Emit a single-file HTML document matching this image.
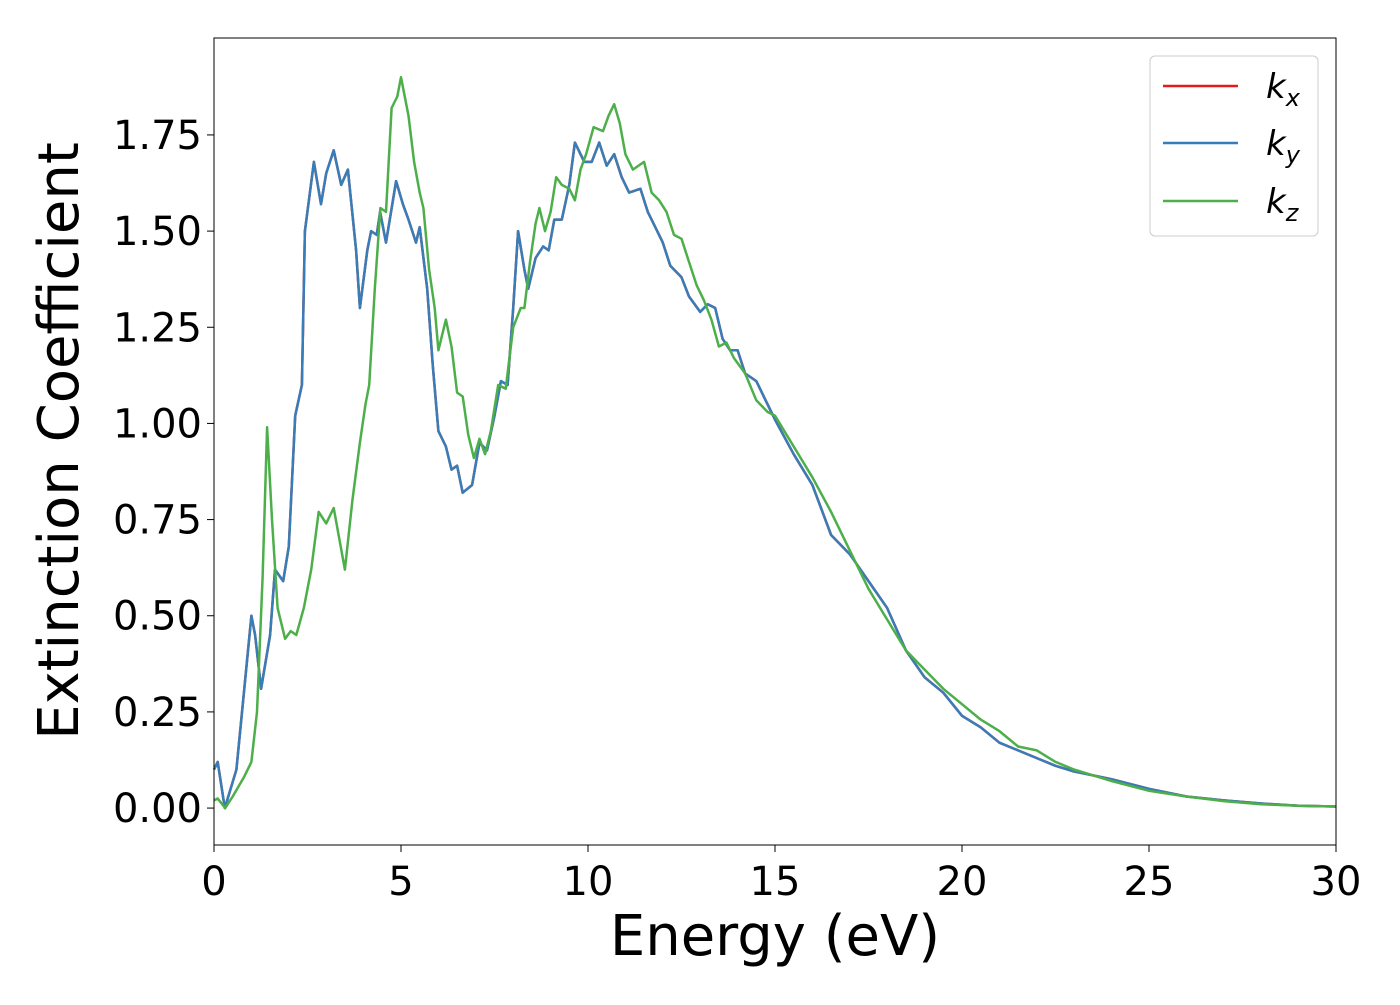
<!DOCTYPE html>
<html><head><meta charset="utf-8">
<style>
html,body{margin:0;padding:0;background:#fff;}
svg text{font-family:"DejaVu Sans","Liberation Sans",sans-serif;}
</style></head>
<body>
<svg width="1400" height="1000" viewBox="0 0 1400 1000">
<g id="plot"></g>
</svg>
<script>
const xTicks=[0,5,10,15,20,25,30];
const yTicks=[0.00,0.25,0.50,0.75,1.00,1.25,1.50,1.75];
const yTickLabels=["0.00","0.25","0.50","0.75","1.00","1.25","1.50","1.75"];
const energyXY=[0,0.1,0.29,0.6,0.8,1.0,1.1,1.26,1.5,1.63,1.85,2.0,2.17,2.35,2.43,2.67,2.86,3.0,3.2,3.4,3.58,3.8,3.9,4.1,4.2,4.35,4.44,4.6,4.87,5.05,5.2,5.4,5.5,5.7,5.85,6.0,6.2,6.35,6.5,6.65,6.9,7.1,7.3,7.5,7.67,7.85,8.0,8.13,8.3,8.4,8.6,8.8,8.95,9.1,9.3,9.5,9.65,9.9,10.1,10.3,10.5,10.7,10.9,11.1,11.4,11.6,11.8,12.0,12.2,12.5,12.7,13.0,13.2,13.4,13.6,13.8,14.0,14.2,14.5,14.8,15.0,15.5,16.0,16.5,17.0,17.5,18.0,18.5,19.0,19.5,20.0,20.5,21.0,21.5,22.0,22.5,23.0,24.0,25.0,26,27,28,29,30];
const kx=[0.10,0.12,0.0,0.1,0.3,0.5,0.45,0.31,0.45,0.62,0.59,0.68,1.02,1.1,1.5,1.68,1.57,1.65,1.71,1.62,1.66,1.45,1.30,1.45,1.50,1.49,1.55,1.47,1.63,1.57,1.53,1.47,1.51,1.35,1.15,0.98,0.94,0.88,0.89,0.82,0.84,0.95,0.93,1.02,1.11,1.1,1.3,1.50,1.40,1.35,1.43,1.46,1.45,1.53,1.53,1.62,1.73,1.68,1.68,1.73,1.67,1.70,1.64,1.60,1.61,1.55,1.51,1.47,1.41,1.38,1.33,1.29,1.31,1.30,1.22,1.19,1.19,1.13,1.11,1.05,1.01,0.92,0.84,0.71,0.66,0.59,0.52,0.41,0.34,0.30,0.24,0.21,0.17,0.15,0.13,0.11,0.095,0.075,0.05,0.03,0.02,0.012,0.006,0.004];
const ky=kx.slice();
const energyZ=[0,0.1,0.3,0.5,0.8,1.0,1.15,1.3,1.42,1.55,1.7,1.9,2.05,2.2,2.4,2.6,2.8,3.0,3.2,3.35,3.5,3.7,3.9,4.05,4.15,4.3,4.45,4.6,4.75,4.9,5.0,5.2,5.35,5.5,5.6,5.75,5.9,6.0,6.2,6.35,6.5,6.65,6.8,6.95,7.1,7.25,7.4,7.6,7.8,8.0,8.2,8.3,8.45,8.6,8.7,8.85,9.0,9.15,9.3,9.5,9.65,9.8,9.95,10.15,10.4,10.55,10.7,10.85,11.0,11.2,11.5,11.7,11.9,12.1,12.3,12.5,12.7,12.9,13.1,13.3,13.5,13.7,13.9,14.2,14.5,14.8,15.0,15.5,16.0,16.5,17.0,17.5,18.0,18.5,19.0,19.5,20.0,20.5,21.0,21.5,22.0,22.5,23.0,24.0,25.0,26,27,28,29,30];
const kz=[0.02,0.025,0.0,0.03,0.08,0.12,0.25,0.6,0.99,0.75,0.52,0.44,0.46,0.45,0.52,0.62,0.77,0.74,0.78,0.70,0.62,0.8,0.95,1.05,1.1,1.35,1.56,1.55,1.82,1.85,1.90,1.80,1.68,1.60,1.56,1.40,1.30,1.19,1.27,1.20,1.08,1.07,0.97,0.91,0.96,0.92,0.98,1.10,1.09,1.25,1.30,1.30,1.42,1.52,1.56,1.50,1.55,1.64,1.62,1.61,1.58,1.66,1.70,1.77,1.76,1.80,1.83,1.78,1.70,1.66,1.68,1.60,1.58,1.55,1.49,1.48,1.42,1.36,1.32,1.27,1.20,1.21,1.17,1.13,1.06,1.03,1.02,0.94,0.86,0.77,0.67,0.57,0.49,0.41,0.36,0.31,0.27,0.23,0.20,0.16,0.15,0.12,0.10,0.07,0.045,0.03,0.018,0.01,0.006,0.004];

const L=214,R=1336,T=38,B=845;
const xMin=0,xMax=30,yMin=-0.096,yMax=2.002;
const sx=v=>L+(v-xMin)/(xMax-xMin)*(R-L);
const sy=v=>B-(v-yMin)/(yMax-yMin)*(B-T);
const NS="http://www.w3.org/2000/svg";
const g=document.getElementById('plot');
function mk(tag,attrs,parent){const e=document.createElementNS(NS,tag);for(const k in attrs)e.setAttribute(k,attrs[k]);(parent||g).appendChild(e);return e;}

function series(xs,ys,color,name){
  let d="";
  for(let i=0;i<xs.length;i++){d+=(i?"L":"M")+sx(xs[i]).toFixed(1)+","+sy(ys[i]).toFixed(1);}
  const p=mk('path',{d:d,fill:'none',stroke:color,'stroke-width':2.5,'stroke-linejoin':'round'});
  
  
}
series(energyXY,kx,'#e41a1c','series-kx');
series(energyXY,ky,'#377eb8','series-ky');
series(energyZ,kz,'#4daf4a','series-kz');

const frame=mk('rect',{x:L,y:T,width:R-L,height:B-T,fill:'none',stroke:'#000','stroke-width':1});



xTicks.forEach(v=>{
  const x=sx(v);
  const t=mk('line',{x1:x,x2:x,y1:B,y2:B+7,stroke:'#000','stroke-width':1});
  
  
  const lb=mk('text',{x:x,y:B+50,'text-anchor':'middle','font-size':40});
  lb.textContent=String(v);
  
  
});
yTicks.forEach((v,i)=>{
  const y=sy(v);
  const t=mk('line',{x1:L-7,x2:L,y1:y,y2:y,stroke:'#000','stroke-width':1});
  
  
  const lb=mk('text',{x:L-12,y:y+14,'text-anchor':'end','font-size':40});
  lb.textContent=yTickLabels[i];
  
  
});
const xt=mk('text',{x:(L+R)/2,y:955,'text-anchor':'middle','font-size':56});
xt.textContent="Energy (eV)";


const yt=mk('text',{x:0,y:0,'text-anchor':'middle','font-size':56,transform:'translate(78,441) rotate(-90)'});
yt.textContent="Extinction Coefficient";



const lg=mk('g',{});


mk('rect',{x:1150,y:56,width:168,height:180,rx:5,fill:'#fff','fill-opacity':0.8,stroke:'#ccc','stroke-width':1},lg);
const entries=[['#e41a1c','x',86],['#377eb8','y',143],['#4daf4a','z',201]];
entries.forEach(e=>{
  const eg=mk('g',{},lg);
  
  
  mk('line',{x1:1163,x2:1238,y1:e[2],y2:e[2],stroke:e[0],'stroke-width':2.5},eg);
  const tx=mk('text',{x:1266,y:e[2]+12,'font-size':34,'font-style':'italic'},eg);
  tx.textContent='k';
  const sub=mk('tspan',{'font-size':24,dy:8},tx);
  sub.textContent=e[1];
});
</script>
</body></html>
